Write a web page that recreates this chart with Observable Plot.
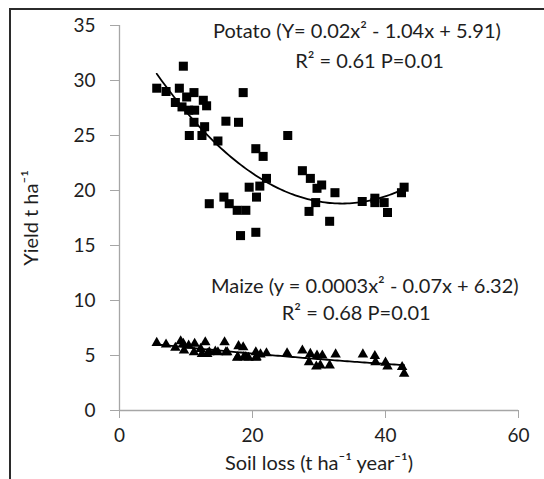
<!DOCTYPE html>
<html>
<head>
<meta charset="utf-8">
<script src="https://cdn.jsdelivr.net/npm/d3@7"></script>
<script src="https://cdn.jsdelivr.net/npm/@observablehq/plot@0.6"></script>
<style>
  html, body { margin: 0; padding: 0; background: #fff; }
  #wrap { position: relative; width: 544px; height: 479px; overflow: hidden; }
  #edge { position: absolute; left: 9px; top: 8px; right: -10px; bottom: -10px;
          border-left: 2px solid #2b2b2b; border-top: 2px solid #2b2b2b; pointer-events: none; }
</style>
</head>
<body>
<div id="wrap"><div id="edge"></div></div>
<script>
// Potato yield (t/ha) against soil loss (t/ha/year)
const potatoLoss = [5.6, 7.0, 9.0, 9.6, 10.1, 11.2, 8.4, 9.4, 10.4, 11.3, 12.6, 13.1, 18.6,
  11.2, 12.8, 10.5, 12.4, 14.8, 16.0, 17.9, 25.3, 20.5, 21.6, 22.1, 21.1, 19.5, 20.6,
  13.5, 15.7, 16.5, 17.7, 19.0, 18.2, 20.5, 27.5, 28.7, 29.7, 29.5, 28.5, 30.4, 32.4,
  31.6, 36.5, 38.4, 38.4, 39.8, 40.3, 42.8, 42.4];
const potatoYield = [29.3, 29.0, 29.3, 31.3, 28.5, 28.9, 28.0, 27.6, 27.3, 27.3, 28.2, 27.7, 28.9,
  26.2, 25.8, 25.0, 25.0, 24.5, 26.3, 26.2, 25.0, 23.8, 23.1, 21.1, 20.4, 20.3, 19.4,
  18.8, 19.4, 18.8, 18.2, 18.2, 15.9, 16.2, 21.8, 21.1, 20.2, 18.9, 18.1, 20.5, 19.8,
  17.2, 19.0, 19.3, 18.9, 18.9, 18.0, 20.3, 19.8];

// Maize yield (t/ha) against soil loss (t/ha/year)
const maizeLoss = [5.6, 7.0, 8.4, 9.2, 9.6, 9.7, 10.4, 11.3, 11.2, 12.2, 12.4, 12.9, 13.2,
  14.8, 15.8, 16.2, 17.9, 18.6, 17.7, 18.7, 19.4, 20.5, 20.6, 21.2, 22.1, 25.2, 27.5,
  28.7, 28.5, 29.7, 29.6, 30.5, 30.2, 31.6, 32.5, 36.6, 38.4, 38.5, 40.0, 40.3, 42.5, 42.8,
  13.5, 14.4, 16.0, 17.8, 19.0, 20.5];
const maizeYield = [6.15, 6.0, 5.7, 6.3, 6.06, 5.45, 5.9, 6.06, 5.3, 5.6, 5.15, 6.2, 5.15,
  5.3, 6.2, 5.3, 5.85, 5.75, 4.8, 4.85, 4.8, 5.3, 4.85, 5.1, 5.2, 5.2, 5.45,
  5.15, 4.4, 5.0, 4.0, 5.0, 4.1, 4.1, 5.1, 5.1, 4.95, 4.4, 4.35, 4.0, 3.95, 3.35,
  5.3, 5.35, 5.3, 4.85, 4.85, 4.8];

const xTicks = [0, 20, 40, 60];
const yTicks = [0, 5, 10, 15, 20, 25, 30, 35];

const potatoNote = ["Potato (Y= 0.02x\u00b2 - 1.04x + 5.91)", "R\u00b2 = 0.61 P=0.01"];
const maizeNote = ["Maize (y = 0.0003x\u00b2 - 0.07x + 6.32)", "R\u00b2 = 0.68 P=0.01"];

// Least-squares second-order polynomial trend line
function quadFit(xs, ys) {
  const S = [0, 0, 0, 0, 0], T = [0, 0, 0];
  xs.forEach((x, i) => {
    let p = 1;
    for (let k = 0; k < 5; k++) { S[k] += p; if (k < 3) T[k] += p * ys[i]; p *= x; }
  });
  const A = [[S[0], S[1], S[2], T[0]], [S[1], S[2], S[3], T[1]], [S[2], S[3], S[4], T[2]]];
  for (let c = 0; c < 3; c++) {
    for (let r = c + 1; r < 3; r++) {
      const f = A[r][c] / A[c][c];
      for (let k = c; k < 4; k++) A[r][k] -= f * A[c][k];
    }
  }
  const b = [0, 0, 0];
  for (let r = 2; r >= 0; r--) {
    let s = A[r][3];
    for (let k = r + 1; k < 3; k++) s -= A[r][k] * b[k];
    b[r] = s / A[r][r];
  }
  return b; // [c0, c1, c2]
}
function trend(xs, ys) {
  const [c0, c1, c2] = quadFit(xs, ys);
  const [lo, hi] = d3.extent(xs);
  return d3.range(0, 101).map(i => {
    const x = lo + (hi - lo) * i / 100;
    return {x, y: c0 + c1 * x + c2 * x * x};
  });
}

const potato = potatoLoss.map((x, i) => ({x, y: potatoYield[i]}));
const maize = maizeLoss.map((x, i) => ({x, y: maizeYield[i]}));

const axisColor = "#a6a6a6";
const ink = "#1e1e1e";
const noteSize = 20;

const chart = Plot.plot({
  width: 544,
  height: 479,
  marginLeft: 119,
  marginRight: 26,
  marginTop: 25,
  marginBottom: 69,
  style: {fontFamily: "Lato, 'Open Sans', sans-serif", fontSize: "19px", color: ink, background: "transparent"},
  x: {domain: [0, 60]},
  y: {domain: [0, 35]},
  marks: [
    Plot.ruleY([0], {stroke: axisColor, strokeWidth: 1.3}),
    Plot.ruleX([0], {stroke: axisColor, strokeWidth: 1.3}),
    Plot.axisX({ticks: xTicks, tickSize: 8, tickPadding: 10, stroke: axisColor, color: ink, fontSize: 19,
      label: null}),
    Plot.axisY({ticks: yTicks, tickSize: 9, tickPadding: 15, stroke: axisColor, color: ink, fontSize: 19,
      label: null}),
    Plot.axisX({ticks: [], tickSize: 0, fontSize: 20, color: ink,
      label: "Soil loss (t ha\u207b\u00b9 year\u207b\u00b9)", labelAnchor: "center", labelArrow: "none", labelOffset: 59}),
    Plot.axisY({ticks: [], tickSize: 0, fontSize: 20, color: ink,
      label: "Yield t ha\u207b\u00b9", labelAnchor: "center", labelArrow: "none", labelOffset: 96}),
    Plot.line(trend(potatoLoss, potatoYield), {x: "x", y: "y", stroke: "#000", strokeWidth: 1.8}),
    Plot.line(trend(maizeLoss, maizeYield), {x: "x", y: "y", stroke: "#000", strokeWidth: 1.8}),
    Plot.dot(potato, {x: "x", y: "y", symbol: "square", r: 5.1, fill: "#000", stroke: "none"}),
    Plot.dot(maize, {x: "x", y: "y", symbol: "triangle", r: 3.9, fill: "#000", stroke: "none"}),
    Plot.text([potatoNote[0]], {x: 35.7, y: 34.45, text: d => d, fontSize: noteSize, fill: ink}),
    Plot.text([potatoNote[1]], {x: 37.6, y: 31.7, text: d => d, fontSize: noteSize, fill: ink}),
    Plot.text([maizeNote[0]], {x: 36.9, y: 11.3, text: d => d, fontSize: noteSize, fill: ink}),
    Plot.text([maizeNote[1]], {x: 35.6, y: 8.85, text: d => d, fontSize: noteSize, fill: ink})
  ]
});
document.getElementById("wrap").prepend(chart);
</script>
</body>
</html>
